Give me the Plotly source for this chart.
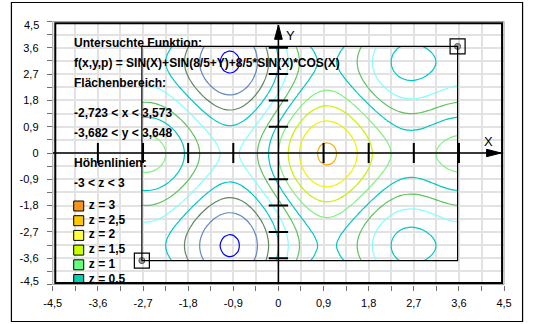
import numpy as np
import plotly.graph_objects as go

W, H = 533, 324

# Examined surface: f(x,y,p) = SIN(X)+SIN(8/5+Y)+8/5*SIN(X)*COS(X)
X_MIN, X_MAX = -2.723, 3.573
Y_MIN, Y_MAX = -3.682, 3.648
N_GRID = 70

# contour levels and their line colours
levels = [-2.5, -2.0, -1.5, -1.0, -0.5, 0.0, 0.5, 1.0, 1.5, 2.0, 2.5]
level_colors = ['#0000FF', '#5F88C0', '#5F875F', '#00C8C8', '#80FFFF',
                '#5FC35F', '#00C8C0', '#80F080', '#C8F000', '#F0F000', '#F0B000']

# legend entries (z values as printed) and their swatch colours
legend_labels = ['3', '2,5', '2', '1,5', '1', '0,5']
legend_colors = ['#F7941D', '#FFC800', '#FFFF40', '#CCFF00', '#66FF80', '#00D0B0']

# axis scale
major_ticks = [-4.5, -3.6, -2.7, -1.8, -0.9, 0.0, 0.9, 1.8, 2.7, 3.6, 4.5]
major_labels = ['-4,5', '-3,6', '-2,7', '-1,8', '-0,9', '0', '0,9', '1,8', '2,7', '3,6', '4,5']
minor_step = 0.45

# ---- plot geometry (pixels) ----
PX_L, PX_R = 45.2, 511.4
PY_T, PY_B = 21.5, 284.5


def xd(px):
    return (px - PX_L) / (PX_R - PX_L) * 9 - 4.5


def yd(py):
    return (PY_B - py) / (PY_B - PY_T) * 9 - 4.5


def pp(px, py):
    return px / W, 1 - py / H


xs = np.linspace(X_MIN, X_MAX, N_GRID)
ys = np.linspace(Y_MIN, Y_MAX, N_GRID)
XX, YY = np.meshgrid(xs, ys)
ZZ = np.sin(XX) + np.sin(8 / 5 + YY) + 8 / 5 * np.sin(XX) * np.cos(XX)

fig = go.Figure()

for lev, col in zip(levels, level_colors):
    fig.add_trace(go.Contour(
        x=xs, y=ys, z=ZZ,
        autocontour=False,
        contours=dict(start=lev, end=lev, size=0.5, coloring='none'),
        line=dict(color=col, width=1.2, smoothing=0.6),
        showscale=False, hoverinfo='skip',
    ))

# domain rectangle corners
fig.add_trace(go.Scatter(
    x=[X_MIN, X_MAX], y=[Y_MIN, Y_MAX], mode='markers',
    marker=dict(symbol='square-open', size=15, color='black', line=dict(width=1.2)),
    hoverinfo='skip', cliponaxis=False,
))
fig.add_trace(go.Scatter(
    x=[X_MIN, X_MAX], y=[Y_MIN, Y_MAX], mode='markers',
    marker=dict(symbol='circle', size=6, color='#A0A0A0', line=dict(width=1, color='#505050')),
    hoverinfo='skip', cliponaxis=False,
))

FONT = 'Liberation Sans, Arial, sans-serif'

# legend swatches and labels (clipped by the plot frame)
row_py = [206.0 + 14.7 * i for i in range(len(legend_labels))]
fig.add_trace(go.Scatter(
    x=[xd(72)] * len(legend_labels), y=[yd(p) for p in row_py], mode='markers',
    marker=dict(symbol='square', size=10, color=legend_colors, line=dict(width=1, color='black')),
    hoverinfo='skip', cliponaxis=True,
))
fig.add_trace(go.Scatter(
    x=[xd(82.5)] * len(legend_labels), y=[yd(p) for p in row_py], mode='text',
    text=['<b>z = %s</b>' % t for t in legend_labels], textposition='middle right',
    textfont=dict(family=FONT, size=12, color='black'),
    hoverinfo='skip', cliponaxis=True,
))

# info text block
info_lines = [
    ('Untersuchte Funktion:', 42.7),
    ('f(x,y,p) = SIN(X)+SIN(8/5+Y)+8/5*SIN(X)*COS(X)', 63.3),
    ('Flächenbereich:', 83.3),
    ('%s < x < %s' % (f'{X_MIN:.3f}'.replace('.', ','), f'{X_MAX:.3f}'.replace('.', ',')), 112.7),
    ('%s < y < %s' % (f'{Y_MIN:.3f}'.replace('.', ','), f'{Y_MAX:.3f}'.replace('.', ',')), 133.3),
    ('Höhenlinien:', 163.3),
    ('-3 < z < 3', 182.7),
]
annotations = []
for txt, py in info_lines:
    annotations.append(dict(
        x=xd(65.5), y=yd(py), xref='x', yref='y', text='<b>%s</b>' % txt,
        showarrow=False, xanchor='left', yanchor='middle',
        font=dict(family=FONT, size=12, color='black'),
    ))
annotations.append(dict(x=xd(495), y=yd(141), xref='x', yref='y', text='X', showarrow=False,
                        font=dict(family=FONT, size=13, color='black')))
annotations.append(dict(x=xd(290.5), y=yd(35.5), xref='x', yref='y', text='Y', showarrow=False,
                        font=dict(family=FONT, size=13, color='black')))

# end labels of the vertical scale sit slightly inside the frame
y_ticktext = list(major_labels)
y_ticktext[0] = ''
y_ticktext[-1] = ''
for lab, py in ((major_labels[-1], 25.0), (major_labels[0], 280.7)):
    xa, ya = pp(33.5, py)
    annotations.append(dict(x=xa, y=ya, xref='paper', yref='paper', text=lab, showarrow=False,
                            xanchor='right', yanchor='middle',
                            font=dict(family=FONT, size=11, color='black')))

shapes = []
# outer border
x0, y0 = pp(2.5, 2.5)
x1, y1 = pp(530.5, 321.5)
shapes.append(dict(type='rect', xref='paper', yref='paper', x0=x0, y0=y0, x1=x1, y1=y1,
                   line=dict(color='black', width=1.2), layer='above'))
# plot frame (gray outer, black inner)
x0, y0 = pp(PX_L, PY_T)
x1, y1 = pp(PX_R, PY_B)
shapes.append(dict(type='rect', xref='paper', yref='paper', x0=x0, y0=y0, x1=x1, y1=y1,
                   line=dict(color='#A0A0A0', width=1), layer='above'))
x0, y0 = pp(47.8, 23.3)
x1, y1 = pp(509.3, 282.9)
shapes.append(dict(type='rect', xref='paper', yref='paper', x0=x0, y0=y0, x1=x1, y1=y1,
                   line=dict(color='black', width=2), layer='above'))

# domain rectangle
shapes.append(dict(type='rect', xref='x', yref='y', x0=X_MIN, y0=Y_MIN, x1=X_MAX, y1=Y_MAX,
                   line=dict(color='black', width=1.2), layer='above'))

# coordinate axes with arrows
x_tip, x_base, x_half = xd(508.3), xd(493.3), 3.7 / (PY_B - PY_T) * 9
y_tip, y_base, y_half = yd(25), yd(39.3), 4.0 / (PX_R - PX_L) * 9
shapes.append(dict(type='line', xref='x', yref='y', x0=-4.5, y0=0, x1=x_tip, y1=0,
                   line=dict(color='black', width=1.5), layer='above'))
shapes.append(dict(type='line', xref='x', yref='y', x0=0, y0=-4.5, x1=0, y1=y_tip,
                   line=dict(color='black', width=1.5), layer='above'))
shapes.append(dict(type='path', xref='x', yref='y',
                   path=f'M {x_base},{x_half} L {x_tip},0 L {x_base},{-x_half} Z',
                   fillcolor='black', line=dict(color='black', width=1), layer='above'))
shapes.append(dict(type='path', xref='x', yref='y',
                   path=f'M {-y_half},{y_base} L 0,{y_tip} L {y_half},{y_base} Z',
                   fillcolor='black', line=dict(color='black', width=1), layer='above'))

tick_half_y = 10 / (PY_B - PY_T) * 9
tick_half_x = 10 / (PX_R - PX_L) * 9
for v in major_ticks:
    if v == 0 or abs(v) > 4:
        continue
    shapes.append(dict(type='line', xref='x', yref='y', x0=v, y0=-tick_half_y, x1=v, y1=tick_half_y,
                       line=dict(color='black', width=2), layer='above'))
    shapes.append(dict(type='line', xref='x', yref='y', x0=-tick_half_x, y0=v, x1=tick_half_x, y1=v,
                       line=dict(color='black', width=2), layer='above'))

axis_common = dict(
    range=[-4.5, 4.5], tickmode='array', tickvals=major_ticks,
    ticks='outside', ticklen=5, tickwidth=1, tickcolor='#707070',
    showgrid=True, gridcolor='#E2E2E2', gridwidth=1.5,
    zeroline=False, showline=False,
    tickfont=dict(family=FONT, size=11, color='black'),
    minor=dict(dtick=minor_step, tick0=-4.5, ticks='outside', ticklen=5, tickcolor='#707070',
               showgrid=True, gridcolor='#E2E2E2', gridwidth=1.5),
    fixedrange=True,
)

fig.update_layout(
    width=W, height=H,
    margin=dict(l=0, r=0, t=0, b=0),
    paper_bgcolor='white', plot_bgcolor='white',
    showlegend=False,
    xaxis=dict(domain=[PX_L / W, PX_R / W], ticktext=major_labels, ticklabelstandoff=3, **axis_common),
    yaxis=dict(domain=[1 - PY_B / H, 1 - PY_T / H], ticktext=y_ticktext, ticklabelstandoff=6,
               **axis_common),
    annotations=annotations,
    shapes=shapes,
)

fig.write_html('out.html')
